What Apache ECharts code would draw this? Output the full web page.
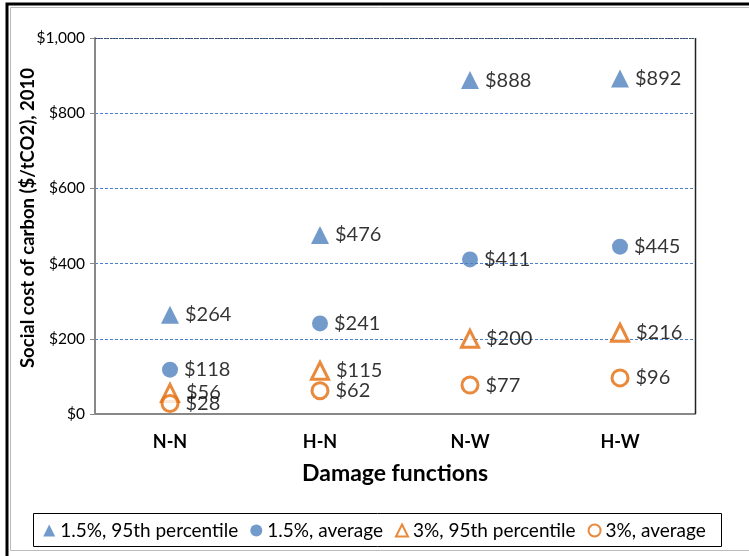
<!DOCTYPE html>
<html><head><meta charset="utf-8">
<script src="https://cdn.jsdelivr.net/npm/echarts@6/dist/echarts.min.js"></script>
<style>html,body{margin:0;padding:0;background:#fff}#c{width:749px;height:556px}</style>
</head><body><div id="c"></div>
<script>
const categories = ['N-N', 'H-N', 'N-W', 'H-W'];
const p95_15 = [264, 476, 888, 892];
const avg_15 = [118, 241, 411, 445];
const p95_3 = [56, 115, 200, 216];
const avg_3 = [28, 62, 77, 96];
const yTicks = [0, 200, 400, 600, 800, 1000];
const yTitle = 'Social cost of carbon ($/tCO2), 2010';
const xTitle = 'Damage functions';

const FONT = 'Lato, "Open Sans", sans-serif';
const blue = '#4F81BD', orange = '#E46C0A';
const lbl = { show: true, position: 'right', distance: 6, color: '#000', fontSize: 20, fontFamily: FONT, formatter: p => '$' + p.value };

const chart = echarts.init(document.getElementById('c'), null, { renderer: 'canvas' });
chart.setOption({
  animation: false,
  backgroundColor: '#fff',
  graphic: [
    { type: 'rect', shape: { x: 7, y: 4, width: 760, height: 560 }, style: { fill: 'none', stroke: '#000', lineWidth: 3 }, z: 0 },
    { type: 'rect', shape: { x: 10.5, y: 7.5, width: 760, height: 543 }, style: { fill: 'none', stroke: '#bbb', lineWidth: 1 }, z: 0 },
    { type: 'line', shape: { x1: 695.5, y1: 38, x2: 695.5, y2: 414 }, style: { stroke: '#222', lineWidth: 1.5 }, z: 1 },
    { type: 'line', shape: { x1: 95, y1: 38.5, x2: 695, y2: 38.5 }, style: { stroke: '#3a4a60', lineWidth: 1, lineDash: [2, 1] }, z: 1 },
    { type: 'rect', shape: { x: 33.5, y: 513.5, width: 688, height: 33 }, style: { fill: 'none', stroke: '#000', lineWidth: 1 }, z: 1 },
    { type: 'text', x: 28, y: 218, rotation: Math.PI / 2, z: 5,
      style: { text: yTitle, font: 'bold 18.5px ' + FONT, fill: '#000', textAlign: 'center', textVerticalAlign: 'middle' } }
  ],
  grid: { left: 95, right: 54, top: 38, bottom: 142, containLabel: false },
  xAxis: {
    type: 'category', data: categories, boundaryGap: true,
    axisLine: { lineStyle: { color: '#888', width: 2 } },
    axisTick: { show: false },
    axisLabel: { fontFamily: FONT, fontSize: 18, fontWeight: 'bold', color: '#000', margin: 19 },
    name: xTitle, nameLocation: 'middle', nameGap: 48,
    nameTextStyle: { fontFamily: FONT, fontSize: 23, fontWeight: 'bold', color: '#000' }
  },
  yAxis: {
    type: 'value', min: 0, max: 1000, interval: 200,
    axisLine: { show: true, lineStyle: { color: '#888', width: 2 } },
    axisTick: { show: true, length: 5, lineStyle: { color: '#888' } },
    axisLabel: { fontFamily: FONT, fontSize: 15.5, color: '#000', margin: 10, formatter: v => '$' + v.toLocaleString('en-US') },
    splitLine: { lineStyle: { color: '#4A7EC8', type: [3, 2], width: 1 } }
  },
  legend: {
    bottom: 11, left: 'center', itemGap: 12, itemWidth: 12, itemHeight: 12,
    textStyle: { fontFamily: FONT, fontSize: 19, color: '#000' },
    data: ['1.5%, 95th percentile', '1.5%, average', '3%, 95th percentile', '3%, average']
  },
  series: [
    { name: '1.5%, 95th percentile', type: 'scatter', data: p95_15, symbol: 'triangle', symbolSize: 18, itemStyle: { color: blue }, label: lbl },
    { name: '1.5%, average', type: 'scatter', data: avg_15, symbol: 'circle', symbolSize: 16, itemStyle: { color: blue }, label: lbl },
    { name: '3%, 95th percentile', type: 'scatter', data: p95_3, symbol: 'triangle', symbolSize: 17, itemStyle: { color: '#fff', borderColor: orange, borderWidth: 3 }, label: lbl },
    { name: '3%, average', type: 'scatter', data: avg_3, symbol: 'circle', symbolSize: 16, itemStyle: { color: '#fff', borderColor: orange, borderWidth: 3 }, label: lbl }
  ]
});
</script></body></html>
